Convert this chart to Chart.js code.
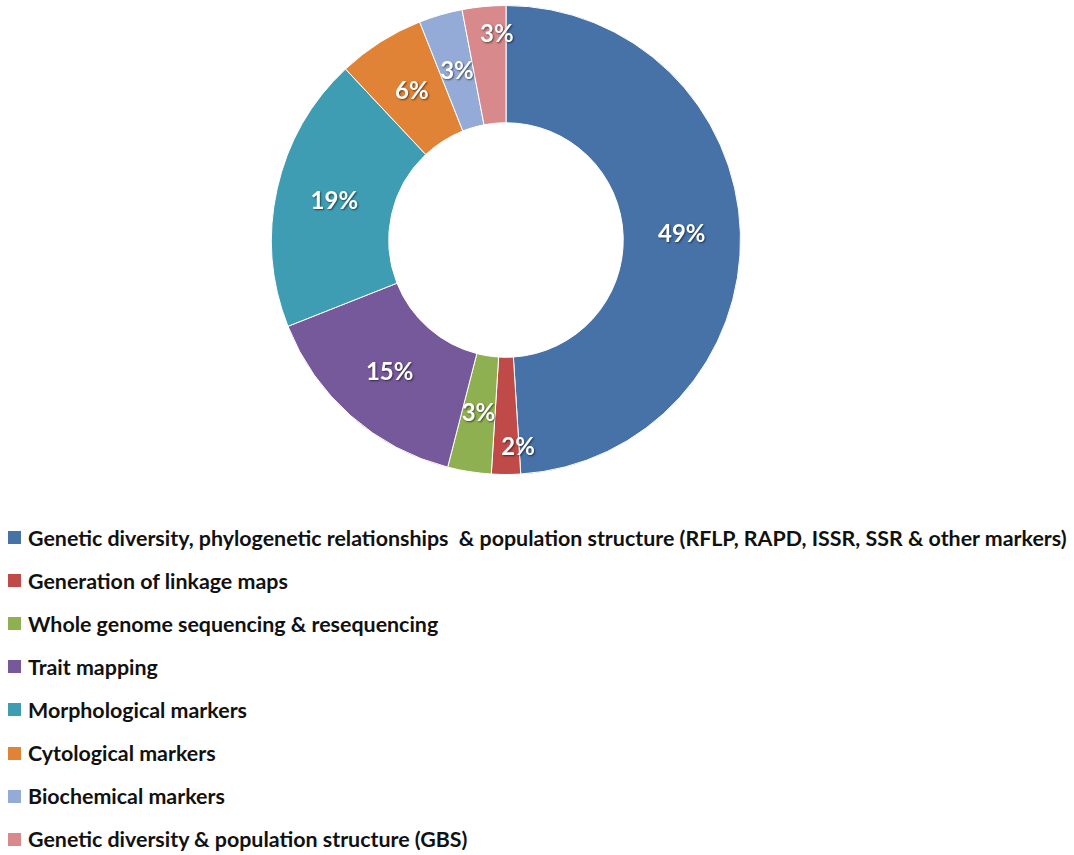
<!DOCTYPE html>
<html>
<head>
<meta charset="utf-8">
<script src="https://cdn.jsdelivr.net/npm/chart.js@4"></script>
<style>
  html, body { margin: 0; padding: 0; background: #fff; }
  body { width: 1074px; height: 855px; position: relative; overflow: hidden; font-family: Lato, "Open Sans", sans-serif; }
  #pie { position: absolute; left: 271px; top: 5px; }
  #legend { position: absolute; left: 0; top: 516px; }
  .row { height: 43.1px; display: flex; align-items: center; white-space: pre; font-weight: bold; font-size: 21.4px; color: #111; }
  .box { width: 13px; height: 13px; margin-left: 8px; margin-right: 7px; flex: none; }
</style>
</head>
<body>
<canvas id="pie" width="470" height="470"></canvas>
<div id="legend"></div>
<script>
/* DATA */
const labels = [
  "Genetic diversity, phylogenetic relationships  & population structure (RFLP, RAPD, ISSR, SSR & other markers)",
  "Generation of linkage maps",
  "Whole genome sequencing & resequencing",
  "Trait mapping",
  "Morphological markers",
  "Cytological markers",
  "Biochemical markers",
  "Genetic diversity & population structure (GBS)"
];
const shares = [49, 2, 3, 15, 19, 6, 3, 3];
const colors = ["#4672a8", "#bf4a47", "#8fb050", "#76599b", "#3f9db3", "#e08336", "#95abd7", "#d7898b"];

/* label placement tweaks: [radius fraction of outer, angle shift in rad] */
const labelNudge = { 1: [0.885, -0.058], 7: [0.88, 0.05] };

/* PLUGIN: white percent labels */
const sliceLabels = {
  id: "sliceLabels",
  afterDatasetsDraw(chart) {
    const ctx = chart.ctx;
    const meta = chart.getDatasetMeta(0);
    ctx.save();
    ctx.font = "bold 24px Lato, 'Open Sans', sans-serif";
    ctx.fillStyle = "#fff";
    ctx.textAlign = "center";
    ctx.textBaseline = "middle";
    ctx.shadowColor = "rgba(0,0,0,0.55)";
    ctx.shadowBlur = 2;
    ctx.shadowOffsetX = 1;
    ctx.shadowOffsetY = 1;
    meta.data.forEach((arc, i) => {
      const p = arc.getProps(["x", "y", "startAngle", "endAngle", "innerRadius", "outerRadius"]);
      let a = (p.startAngle + p.endAngle) / 2;
      let r = (p.innerRadius + p.outerRadius) / 2;
      if (labelNudge[i]) {
        r = p.outerRadius * labelNudge[i][0];
        a += labelNudge[i][1];
      }
      ctx.fillText(shares[i] + "%", p.x + Math.cos(a) * r, p.y + Math.sin(a) * r);
    });
    ctx.restore();
  }
};

/* CHART */
const chart = new Chart(document.getElementById("pie").getContext("2d"), {
  type: "doughnut",
  data: {
    labels: labels,
    datasets: [{ data: shares, backgroundColor: colors, borderColor: "#fff", borderWidth: 1 }]
  },
  options: {
    responsive: false,
    animation: false,
    cutout: "50%",
    layout: { padding: 0 },
    plugins: { legend: { display: false }, tooltip: { enabled: false } }
  },
  plugins: [sliceLabels]
});

/* LEGEND */
const legendEl = document.getElementById("legend");
chart.data.labels.forEach((name, i) => {
  const row = document.createElement("div");
  row.className = "row";
  const box = document.createElement("span");
  box.className = "box";
  box.style.background = colors[i];
  row.appendChild(box);
  row.appendChild(document.createTextNode(name));
  legendEl.appendChild(row);
});
</script>
</body>
</html>
